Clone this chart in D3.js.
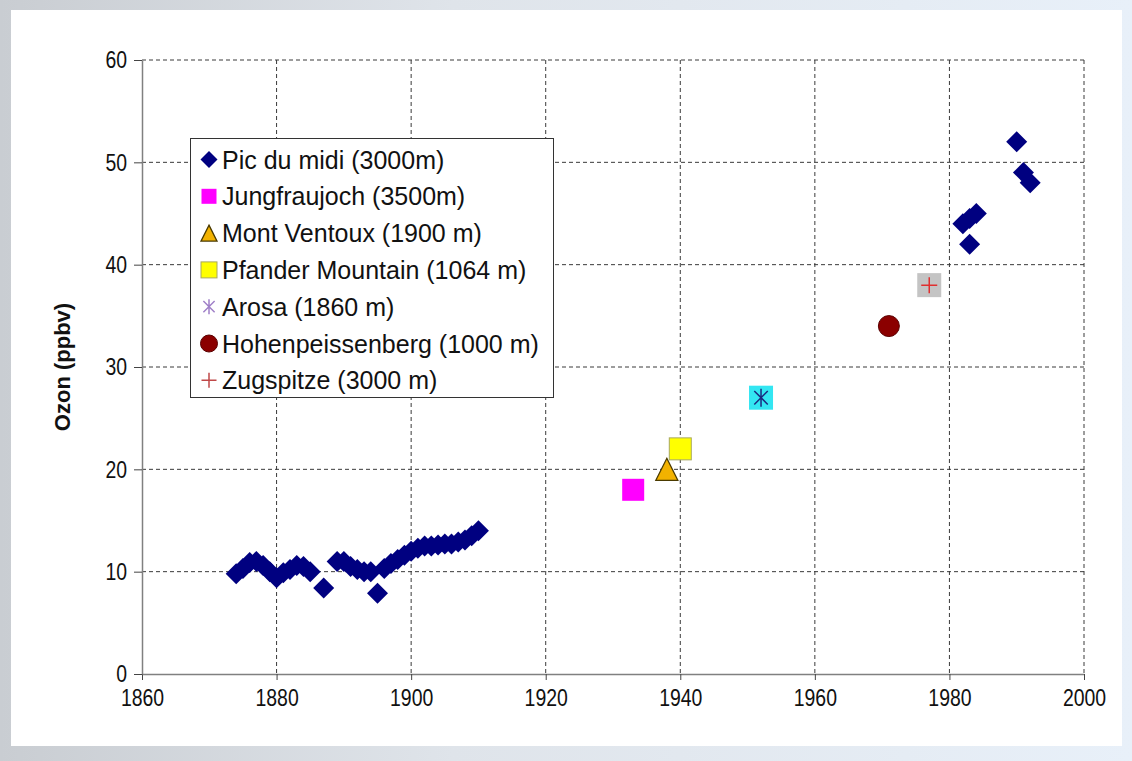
<!DOCTYPE html>
<html>
<head>
<meta charset="utf-8">
<script src="https://cdn.jsdelivr.net/npm/d3@7"></script>
<style>
  html, body { margin: 0; padding: 0; }
  body { width: 1132px; height: 761px; overflow: hidden; background: #dde3ea; }
  text { font-family: Arial, "Liberation Sans", sans-serif; }
</style>
</head>
<body>
<svg id="chart" width="1132" height="761"></svg>
<script>
// ---------- data ----------
const picYears  = [1874,1875,1876,1877,1878,1879,1880,1881,1882,1883,1884,1885,1887,1889,1890,1891,1892,1893,1894,1895,1896,1897,1898,1899,1900,1901,1902,1903,1904,1905,1906,1907,1908,1909,1910,1982,1983,1984,1983,1990,1991,1992];
const picValues = [9.8,10.3,10.9,11.0,10.6,10.0,9.4,9.9,10.2,10.6,10.5,10.0,8.4,11.0,11.0,10.5,10.2,10.0,10.0,7.9,10.3,10.8,11.2,11.6,12.0,12.3,12.5,12.5,12.6,12.7,12.7,12.9,13.1,13.5,14.0,44,44.5,45,42,52,49,48];
const stationNames  = ["Jungfraujoch (3500m)","Mont Ventoux (1900 m)","Pfander Mountain (1064 m)","Arosa (1860 m)","Hohenpeissenberg (1000 m)","Zugspitze (3000 m)"];
const stationYears  = [1933,1938,1940,1952,1971,1977];
const stationValues = [18,20,22,27,34,38];
const legendLabels  = ["Pic du midi (3000m)"].concat(stationNames);
const xTicks = [1860,1880,1900,1920,1940,1960,1980,2000];
const yTicks = [0,10,20,30,40,50,60];
const yTitle = "Ozon (ppbv)";

// ---------- layout ----------
const svg = d3.select("#chart");
const pLeft = 142, pRight = 1084, pTop = 60, pBottom = 674;
const x = d3.scaleLinear().domain([1860,2000]).range([pLeft,pRight]);
const y = d3.scaleLinear().domain([0,60]).range([pBottom,pTop]);

// background
const defs = svg.append("defs");
const g1 = defs.append("linearGradient").attr("id","bg").attr("x1","0").attr("x2","1").attr("y1","0").attr("y2","0");
g1.append("stop").attr("offset","0").attr("stop-color","#c9cdd2");
g1.append("stop").attr("offset","0.4").attr("stop-color","#dfe4ea");
g1.append("stop").attr("offset","1").attr("stop-color","#e8f0f9");
svg.append("rect").attr("width",1132).attr("height",761).attr("fill","url(#bg)");
svg.append("rect").attr("x",11).attr("y",10).attr("width",1111).attr("height",736).attr("fill","#ffffff");

// gridlines
const grid = svg.append("g");
grid.selectAll("line.h").data(yTicks.filter(d=>d>0)).join("line").attr("class","h")
  .attr("x1",pLeft).attr("x2",pRight).attr("y1",d=>y(d)).attr("y2",d=>y(d))
  .attr("stroke","#3a3a3a").attr("stroke-width",1).attr("stroke-dasharray","4,3");
grid.selectAll("line.v").data(xTicks.filter(d=>d>1860)).join("line").attr("class","v")
  .attr("x1",d=>x(d)).attr("x2",d=>x(d)).attr("y1",pTop).attr("y2",pBottom)
  .attr("stroke","#3a3a3a").attr("stroke-width",1).attr("stroke-dasharray","4,3");

// axes
const xAxis = svg.append("g").attr("transform",`translate(0,${pBottom})`)
  .call(d3.axisBottom(x).tickValues(xTicks).tickFormat(d3.format("d")).tickSizeInner(6).tickSizeOuter(0).tickPadding(9));
const yAxis = svg.append("g").attr("transform",`translate(${pLeft},0)`)
  .call(d3.axisLeft(y).tickValues(yTicks).tickSizeInner(8).tickSizeOuter(0).tickPadding(7));
[xAxis,yAxis].forEach(a=>{
  a.select(".domain").attr("stroke","#808080").attr("stroke-width",1.5);
  a.selectAll(".tick line").attr("stroke","#444");
  a.selectAll(".tick text").attr("font-size",24).attr("fill","#111")
    .style("font-family","Arial, 'Liberation Sans', sans-serif")
    .attr("textLength", function(){ return this.textContent.length*10.8; })
    .attr("lengthAdjust","spacingAndGlyphs");
});

// y title
svg.append("text").attr("transform",`translate(70,${(pTop+pBottom)/2}) rotate(-90)`)
  .attr("text-anchor","middle").attr("font-size",22).attr("font-weight","bold").attr("fill","#111")
  .text(yTitle);

// ---------- marker drawers ----------
function diamond(g, cx, cy, s, fill){
  const h=s/2;
  g.append("path").attr("d",`M${cx},${cy-h}L${cx+h},${cy}L${cx},${cy+h}L${cx-h},${cy}Z`).attr("fill",fill);
}
function square(g, cx, cy, s, fill, stroke){
  g.append("rect").attr("x",cx-s/2).attr("y",cy-s/2).attr("width",s).attr("height",s)
    .attr("fill",fill).attr("stroke",stroke||"none").attr("stroke-width",1);
}
function triangle(g, cx, cy, s, fill, stroke){
  const h=s/2;
  g.append("path").attr("d",`M${cx},${cy-h}L${cx+h},${cy+h}L${cx-h},${cy+h}Z`)
    .attr("fill",fill).attr("stroke",stroke).attr("stroke-width",1.3);
}
function asterisk(g, cx, cy, s, stroke){
  const h=s/2, d=h*0.75;
  g.append("path").attr("d",`M${cx},${cy-h}L${cx},${cy+h}M${cx-d},${cy-d}L${cx+d},${cy+d}M${cx-d},${cy+d}L${cx+d},${cy-d}`)
    .attr("stroke",stroke).attr("stroke-width",1.5).attr("fill","none");
}
function plus(g, cx, cy, s, stroke){
  const h=s/2;
  g.append("path").attr("d",`M${cx},${cy-h}L${cx},${cy+h}M${cx-h},${cy}L${cx+h},${cy}`)
    .attr("stroke",stroke).attr("stroke-width",1.5).attr("fill","none");
}
function circle(g, cx, cy, s, fill){
  g.append("circle").attr("cx",cx).attr("cy",cy).attr("r",s/2).attr("fill",fill).attr("stroke","#5a0000").attr("stroke-width",1);
}

// ---------- points ----------
const pts = svg.append("g");
picYears.forEach((yr,i)=> diamond(pts, x(yr), y(picValues[i]), 21, "#000080"));
const drawers = [
  (g,cx,cy)=>square(g,cx,cy,22,"#ff00ff"),
  (g,cx,cy)=>triangle(g,cx,cy,22,"#f2b200","#4a3a00"),
  (g,cx,cy)=>square(g,cx,cy,22,"#ffff00","#a8a860"),
  (g,cx,cy)=>{ square(g,cx,cy,24,"#33e6f2"); asterisk(g,cx,cy,18,"#1a2a80"); },
  (g,cx,cy)=>circle(g,cx,cy,21,"#8b0000"),
  (g,cx,cy)=>{ square(g,cx,cy,24,"#c4c4c4"); plus(g,cx,cy,16,"#e03030"); }
];
stationYears.forEach((yr,i)=> drawers[i](pts, x(yr), y(stationValues[i])));

// ---------- legend ----------
const lg = svg.append("g");
lg.append("rect").attr("x",190.5).attr("y",138.5).attr("width",363).attr("height",259)
  .attr("fill","#fff").attr("stroke","#333").attr("stroke-width",1);
const legendMarkers = [
  (g,cx,cy)=>diamond(g,cx,cy,17,"#000080"),
  (g,cx,cy)=>square(g,cx,cy,15,"#ff00ff"),
  (g,cx,cy)=>triangle(g,cx,cy,16,"#f2b200","#4a3a00"),
  (g,cx,cy)=>square(g,cx,cy,16,"#ffff00","#a8a860"),
  (g,cx,cy)=>asterisk(g,cx,cy,15,"#a080c8"),
  (g,cx,cy)=>circle(g,cx,cy,17,"#8b0000"),
  (g,cx,cy)=>plus(g,cx,cy,15,"#c04848")
];
legendLabels.forEach((lab,i)=>{
  const cy = 159.5 + i*36.8;
  legendMarkers[i](lg, 209, cy);
  lg.append("text").attr("x",222).attr("y",cy).attr("dy","0.36em")
    .attr("font-size",25).attr("fill","#111").text(lab);
});
</script>
</body>
</html>
